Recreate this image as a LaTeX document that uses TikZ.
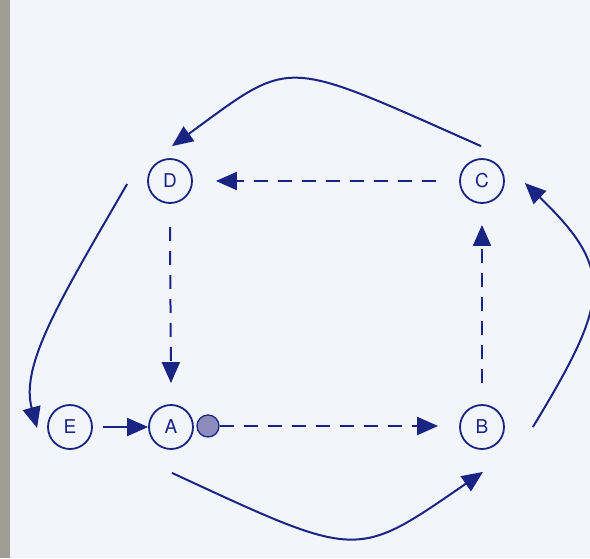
\documentclass[tikz,border=0pt]{standalone}
\usepackage{fontspec}
\newfontfamily\lab{TeX Gyre Heros}
\usetikzlibrary{arrows.meta,calc}
\definecolor{ink}{RGB}{26,36,130}
\definecolor{paper}{RGB}{242,245,251}
\definecolor{scan}{RGB}{160,157,148}
\definecolor{dotfill}{RGB}{140,140,190}
\tikzset{
  state/.style={circle,draw=ink,line width=1.8pt,minimum size=44pt,inner sep=0pt,
    font=\lab\fontsize{19}{19}\selectfont,text=ink,fill=paper},
  flow/.style={draw=ink,line width=2pt,-{Triangle[length=21pt,width=18pt]}},
  dflow/.style={flow,dash pattern=on 14pt off 10pt},
  blob/.style={circle,draw=ink,line width=1.3pt,fill=dotfill,minimum size=22pt,inner sep=0pt}
}
\begin{document}
\begin{tikzpicture}[x=1pt,y=-1pt]
\useasboundingbox (0,0) rectangle (590,558);
\clip (0,0) rectangle (590,558);
\fill[paper] (0,0) rectangle (590,558);
\fill[scan] (0,0) rectangle (10,558);

\node[state] (D) at (170,181) {D};
\node[state] (C) at (482,181) {C};
\node[state] (E) at (70,427) {E};
\node[state] (A) at (171,427) {A};
\node[state] (B) at (482,427) {B};
\node[blob] (dot) at (208,426) {};

% dashed square
\draw[dflow] ($(C.west)+(-23,0)$) -- ($(D.east)+(23,0)$);
\draw[dflow] ($(D.south)+(0,23)$) -- ($(A.north)+(0,-21)$);
\draw[dflow] ($(B.north)+(0,-21)$) -- ($(C.south)+(0,21)$);
\draw[dflow] (dot.east) -- ($(B.west)+(-21,-1)$);

% solid
\draw[flow] ($(E.east)+(10,0)$) -- (A.west);
\draw[flow] ($(C.north)+(-1,-12)$) .. controls (280,57) and (294,57) .. ($(D.north)+(2,-12)$);
\draw[flow] ($(D.west)+(-20,3)$) .. controls (60,300) and (20,365) .. ($(E.west)+(-10,1)$);
\draw[flow] ($(B.east)+(28,0)$) .. controls (610,300) and (615,270) .. ($(C.east)+(20,2)$);
\draw[flow] ($(A.south)+(1,23)$) .. controls (360,560) and (355,560) .. ($(B.south)+(1,22)$);
\end{tikzpicture}
\end{document}
